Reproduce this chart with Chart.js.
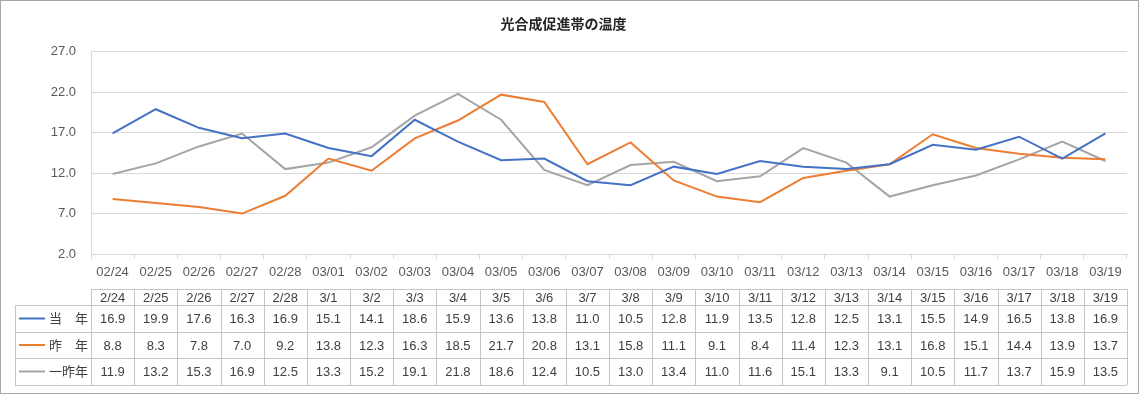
<!DOCTYPE html>
<html>
<head>
<meta charset="utf-8">
<script src="https://cdn.jsdelivr.net/npm/chart.js@4"></script>
<style>
  html, body { margin: 0; padding: 0; background: #fff; }
  #wrap { width: 1141px; height: 400px; position: relative; }
</style>
</head>
<body>
<div id="wrap"><canvas id="tempChart"></canvas></div>
<script>
// axis categories and table header
var axisLabels = ['02/24','02/25','02/26','02/27','02/28','03/01','03/02','03/03','03/04','03/05','03/06','03/07',
                  '03/08','03/09','03/10','03/11','03/12','03/13','03/14','03/15','03/16','03/17','03/18','03/19'];
var tableLabels = ['2/24','2/25','2/26','2/27','2/28','3/1','3/2','3/3','3/4','3/5','3/6','3/7',
                   '3/8','3/9','3/10','3/11','3/12','3/13','3/14','3/15','3/16','3/17','3/18','3/19'];

// series
var thisYear = [16.9,19.9,17.6,16.3,16.9,15.1,14.1,18.6,15.9,13.6,13.8,11.0,10.5,12.8,11.9,13.5,12.8,12.5,13.1,15.5,14.9,16.5,13.8,16.9];
var lastYear = [8.8,8.3,7.8,7.0,9.2,13.8,12.3,16.3,18.5,21.7,20.8,13.1,15.8,11.1,9.1,8.4,11.4,12.3,13.1,16.8,15.1,14.4,13.9,13.7];
var twoYearsAgo = [11.9,13.2,15.3,16.9,12.5,13.3,15.2,19.1,21.8,18.6,12.4,10.5,13.0,13.4,11.0,11.6,15.1,13.3,9.1,10.5,11.7,13.7,15.9,13.5];

var seriesNames = ['当　年', '昨　年', '一昨年'];
var seriesColors = ['#4472C4', '#ED7D31', '#A5A5A5'];

var FONT = "'Liberation Sans', 'Noto Sans CJK JP', sans-serif";
var TEXT = '#404040';
var LINE = '#c6c6c6';

// data table under the plot, columns taken from the x scale
var tablePlugin = {
  id: 'dataTable',
  afterDraw: function(chart) {
    var ctx = chart.ctx;
    var x = chart.scales.x;
    var half = (x.getPixelForValue(1) - x.getPixelForValue(0)) / 2;
    var left = x.getPixelForValue(0) - half;
    var right = x.getPixelForValue(axisLabels.length - 1) + half;
    var keyLeft = 15;
    var rows = [289, 305, 332, 358, 385];
    var data = chart.data.datasets;

    ctx.save();
    ctx.strokeStyle = LINE;
    ctx.lineWidth = 1;
    ctx.beginPath();
    // horizontal lines
    ctx.moveTo(left, rows[0] + 0.5); ctx.lineTo(right, rows[0] + 0.5);
    for (var r = 1; r < rows.length; r++) {
      ctx.moveTo(keyLeft, rows[r] + 0.5); ctx.lineTo(right, rows[r] + 0.5);
    }
    // vertical lines
    ctx.moveTo(keyLeft + 0.5, rows[1]); ctx.lineTo(keyLeft + 0.5, rows[4]);
    for (var i = 0; i <= axisLabels.length; i++) {
      var vx = Math.round(left + i * half * 2) + 0.5;
      ctx.moveTo(vx, rows[0]); ctx.lineTo(vx, rows[4]);
    }
    ctx.stroke();

    ctx.fillStyle = TEXT;
    ctx.font = '13px ' + FONT;
    ctx.textAlign = 'center';
    ctx.textBaseline = 'middle';
    for (var c = 0; c < tableLabels.length; c++) {
      var cx = x.getPixelForValue(c);
      ctx.fillText(tableLabels[c], cx, (rows[0] + rows[1]) / 2 + 1);
      for (var s = 0; s < data.length; s++) {
        ctx.fillText(data[s].data[c].toFixed(1), cx, (rows[s + 1] + rows[s + 2]) / 2 + 1);
      }
    }

    // legend keys
    for (var k = 0; k < data.length; k++) {
      var cy = (rows[k + 1] + rows[k + 2]) / 2;
      ctx.strokeStyle = data[k].borderColor;
      ctx.lineWidth = 2;
      ctx.beginPath();
      ctx.moveTo(19, cy); ctx.lineTo(45, cy);
      ctx.stroke();
      ctx.fillStyle = TEXT;
      ctx.textAlign = 'right';
      ctx.fillText(seriesNames[k], 88, cy + 1);
    }

    // outer frame
    ctx.strokeStyle = '#a6a6a6';
    ctx.lineWidth = 1;
    ctx.strokeRect(0.5, 0.5, 1138, 393);
    ctx.restore();
  }
};

var ctx = document.getElementById('tempChart').getContext('2d');
var chart = new Chart(ctx, {
  type: 'line',
  data: {
    labels: axisLabels,
    datasets: [thisYear, lastYear, twoYearsAgo].map(function(vals, i) {
      return {
        label: seriesNames[i],
        data: vals,
        borderColor: seriesColors[i],
        backgroundColor: seriesColors[i],
        borderWidth: 2,
        pointRadius: 0,
        tension: 0,
        fill: false
      };
    })
  },
  options: {
    responsive: true,
    maintainAspectRatio: false,
    animation: false,
    layout: { padding: { left: 0, right: 14, top: 0, bottom: 120 } },
    plugins: {
      legend: { display: false },
      tooltip: { enabled: false },
      title: {
        display: true,
        text: '光合成促進帯の温度',
        color: '#262626',
        font: { family: "'Noto Sans CJK JP', sans-serif", size: 14, weight: 'bold' },
        padding: { top: 15, bottom: 20 }
      }
    },
    scales: {
      x: {
        offset: true,
        grid: { offset: true, drawOnChartArea: false, drawTicks: true, tickLength: 5, color: '#d9d9d9' },
        border: { color: '#d9d9d9' },
        ticks: { color: '#595959', font: { family: FONT, size: 13 }, padding: 6, maxRotation: 0, autoSkip: false },
        afterFit: function(scale) { scale.height = 26; }
      },
      y: {
        min: 2,
        max: 27,
        grid: { color: '#d9d9d9', drawTicks: false },
        border: { color: '#d9d9d9' },
        ticks: {
          stepSize: 5,
          color: '#595959',
          font: { family: FONT, size: 13 },
          padding: 15,
          callback: function(v) { return v.toFixed(1); }
        },
        afterFit: function(scale) { scale.width = 91; }
      }
    }
  },
  plugins: [tablePlugin]
});
</script>
</body>
</html>
